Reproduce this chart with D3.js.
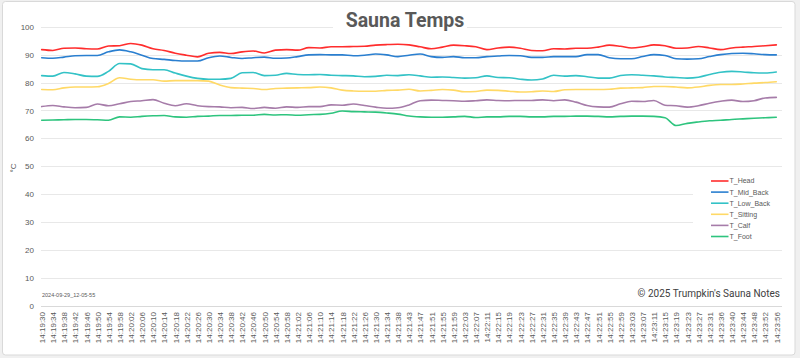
<!DOCTYPE html>
<html><head><meta charset="utf-8">
<script src="https://cdn.jsdelivr.net/npm/d3@7"></script>
<style>html,body{margin:0;padding:0;background:#f0f0f0;}svg{display:block;}</style>
</head><body>
<svg id="c" width="800" height="358"></svg>
<script>
const times = ["14:19:30","14:19:34","14:19:38","14:19:42","14:19:46","14:19:50","14:19:54","14:19:58",
"14:20:02","14:20:06","14:20:10","14:20:14","14:20:18","14:20:22","14:20:26","14:20:30","14:20:34","14:20:38","14:20:42","14:20:46","14:20:50","14:20:54","14:20:58",
"14:21:02","14:21:06","14:21:10","14:21:14","14:21:18","14:21:22","14:21:26","14:21:30","14:21:34","14:21:38","14:21:43","14:21:47","14:21:51","14:21:55","14:21:59",
"14:22:03","14:22:07","14:22:11","14:22:15","14:22:19","14:22:23","14:22:27","14:22:31","14:22:35","14:22:39","14:22:43","14:22:47","14:22:51","14:22:55","14:22:59",
"14:23:03","14:23:07","14:23:11","14:23:15","14:23:19","14:23:23","14:23:27","14:23:31","14:23:36","14:23:40","14:23:44","14:23:48","14:23:52","14:23:56"];

const T_Head = [91.8,91.5,92.3,92.4,92.1,92.0,93.1,93.2,94.0,93.4,92.1,91.5,90.5,89.8,89.2,90.5,90.8,90.4,91.0,91.3,90.6,91.6,91.8,
91.6,92.5,92.4,92.8,92.8,92.9,93.0,93.4,93.6,93.7,93.5,92.8,92.1,92.7,93.4,93.2,92.8,91.8,92.4,92.7,92.3,91.5,
91.4,92.1,92.0,92.3,92.3,92.7,93.4,93.0,92.4,92.8,93.5,93.2,92.3,92.4,92.9,92.4,91.8,92.4,92.7,92.9,93.2,93.5];
const T_Mid_Back = [88.9,88.7,89.1,89.6,89.7,89.7,91.0,91.7,91.0,89.8,88.6,88.3,87.9,87.7,87.7,88.9,89.5,89.0,88.6,88.9,89.1,88.7,88.8,
89.3,89.9,90.0,89.9,89.9,89.6,89.8,90.2,89.9,89.3,89.8,90.2,89.3,89.0,89.3,88.9,88.9,89.3,89.5,89.7,89.6,89.0,
89.0,89.3,89.3,89.3,90.0,90.0,88.9,88.5,88.5,89.3,90.0,89.7,88.5,88.4,88.5,89.3,90.0,90.4,90.5,90.3,90.0,89.9];
const T_Low_Back = [82.5,82.3,83.6,83.1,82.3,82.2,84.0,86.8,86.7,85.0,84.6,84.6,83.4,82.3,81.5,81.2,81.2,81.5,83.5,83.6,82.5,82.6,83.3,
82.9,82.8,82.9,82.6,82.5,82.4,82.1,82.2,82.6,82.5,82.8,82.4,81.9,82.0,81.8,81.6,81.7,82.4,81.8,81.7,81.2,80.9,
81.3,82.6,82.3,82.5,82.1,81.6,81.6,82.5,82.8,82.6,82.4,82.0,81.8,81.6,81.9,82.9,83.7,84.0,83.8,83.5,83.4,83.8];
const T_Sitting = [77.5,77.4,78.1,78.4,78.4,78.5,79.7,81.7,81.2,81.0,81.0,80.5,80.7,80.7,80.7,80.5,79.1,78.2,78.0,77.9,77.5,77.9,78.0,
78.1,78.2,78.4,78.1,77.3,77.0,76.9,76.9,77.2,77.3,77.6,77.0,77.2,77.5,77.3,76.7,76.8,77.3,77.2,76.9,76.6,76.7,
77.0,76.8,77.4,77.5,77.5,77.5,77.6,78.0,78.1,78.2,78.6,78.6,78.4,78.1,78.4,79.0,79.3,79.3,79.5,79.8,80.0,80.3];
const T_Calf = [71.4,71.8,71.3,71.0,71.1,72.3,71.7,72.4,73.2,73.5,73.9,72.6,71.7,72.4,71.7,71.4,71.3,71.0,71.1,70.7,71.1,70.8,71.3,
71.1,71.4,71.4,72.0,71.9,72.3,71.8,71.2,70.8,71.0,72.0,73.5,73.7,73.6,73.5,73.3,73.5,73.8,73.6,73.5,73.6,73.6,
73.8,73.5,73.8,73.0,71.8,71.3,71.2,72.4,73.3,73.2,73.6,71.9,71.7,71.2,71.7,72.6,73.3,73.7,73.2,73.5,74.5,74.7];
const T_Foot = [66.5,66.6,66.7,66.8,66.8,66.7,66.5,67.7,67.6,67.9,68.1,68.2,67.7,67.6,67.9,68.0,68.2,68.2,68.3,68.3,68.6,68.4,68.5,
68.3,68.5,68.6,69.0,69.8,69.6,69.5,69.4,69.1,68.7,68.0,67.7,67.6,67.6,67.7,67.9,67.5,67.7,67.7,67.9,67.9,67.7,
67.7,67.9,67.9,68.0,68.0,67.9,67.7,67.9,68.0,68.0,67.9,67.4,64.6,65.4,65.9,66.3,66.5,66.8,67.0,67.2,67.4,67.6];

const seriesNames = ["T_Head","T_Mid_Back","T_Low_Back","T_Sitting","T_Calf","T_Foot"];
const seriesValues = [T_Head,T_Mid_Back,T_Low_Back,T_Sitting,T_Calf,T_Foot];
const seriesColors = ["#ff2d2d","#2a7fd0","#33c2c6","#ffd966","#a67ca9","#2ec47e"];
const yTicks = [0,10,20,30,40,50,60,70,80,90,100];

const title = "Sauna Temps";
const yLabel = "°C";
const stamp = "2024-09-29_12-05-55";
const credit = "© 2025 Trumpkin's Sauna Notes";

const svg = d3.select("#c");
const W = 800, H = 358;
const L = 41, R = 782, TOP = 26.7, BOT = 306;

svg.append("rect").attr("x",2.5).attr("y",1.5).attr("width",792.5).attr("height",353.5)
  .attr("rx",3).attr("fill","#ffffff").attr("stroke","#d9d9d9").attr("stroke-width",1);

const x = d3.scalePoint().domain(times).range([41.7, 776.3]);
const y = d3.scaleLinear().domain([0,100]).range([BOT, TOP]);

// gridlines
svg.append("g").selectAll("line").data(yTicks).join("line")
  .attr("x1",L).attr("x2",R)
  .attr("y1",d=>Math.round(y(d))+0.5).attr("y2",d=>Math.round(y(d))+0.5)
  .attr("stroke",d=>d===0?"#d9d9d9":"#e8e8e8").attr("stroke-width",1);

// y axis
const ya = svg.append("g").attr("transform",`translate(${L},0)`)
  .call(d3.axisLeft(y).tickValues(yTicks).tickSize(0).tickPadding(7));
ya.select(".domain").remove();
ya.selectAll("text").attr("font-family","'Liberation Sans', Arial, sans-serif")
  .attr("font-size","8px").attr("fill","#595959");

// x axis
const xa = svg.append("g").attr("transform",`translate(0,${BOT})`)
  .call(d3.axisBottom(x).tickSize(0));
xa.select(".domain").remove();
xa.selectAll("text").attr("font-family","'Liberation Sans', Arial, sans-serif")
  .attr("font-size","8px").attr("fill","#595959")
  .attr("transform","rotate(-90)").attr("text-anchor","end")
  .attr("x",-6).attr("y",0).attr("dy","0.35em");

// y label
svg.append("text").attr("transform",`translate(16,168) rotate(-90)`)
  .attr("text-anchor","middle").attr("font-family","'Liberation Sans', Arial, sans-serif")
  .attr("font-size","8px").attr("fill","#595959").text(yLabel);

// title
svg.append("rect").attr("x",333).attr("y",8).attr("width",134).attr("height",24).attr("fill","#fff");
svg.append("text").attr("x",405).attr("y",27.3).attr("text-anchor","middle")
  .attr("font-family","Roboto, sans-serif").attr("font-weight",700)
  .attr("font-size","19.5px").attr("fill","#595959").text(title);

// legend
svg.append("rect").attr("x",693).attr("y",172).attr("width",96).attr("height",72).attr("fill","#fff");
const lg = svg.append("g").selectAll("g").data(seriesNames).join("g")
  .attr("transform",(d,i)=>`translate(711,${181+i*11.1})`);
lg.append("line").attr("x1",0).attr("x2",17.5).attr("y1",0).attr("y2",0)
  .attr("stroke",(d,i)=>seriesColors[i]).attr("stroke-width",1.6);
lg.append("text").attr("x",18.5).attr("y",0).attr("dy","0.35em")
  .attr("font-family","'Liberation Sans', Arial, sans-serif").attr("font-size","7px")
  .attr("fill","#595959").text(d=>d);

// lines
const line = d3.line().x((d,i)=>x(times[i])).y(d=>y(d)).curve(d3.curveMonotoneX);
svg.append("g").selectAll("path").data(seriesValues).join("path")
  .attr("d",line).attr("fill","none")
  .attr("stroke",(d,i)=>seriesColors[i]).attr("stroke-width",1.6)
  .attr("stroke-linejoin","round").attr("stroke-linecap","round");

// texts
svg.append("text").attr("x",42).attr("y",297)
  .attr("font-family","'Liberation Sans', Arial, sans-serif").attr("font-size","5.5px")
  .attr("fill","#595959").text(stamp);
svg.append("text").attr("x",780).attr("y",296.5).attr("text-anchor","end")
  .attr("font-family","Roboto, sans-serif").attr("font-size","10px")
  .attr("fill","#404040").text(credit);
</script>
</body></html>
